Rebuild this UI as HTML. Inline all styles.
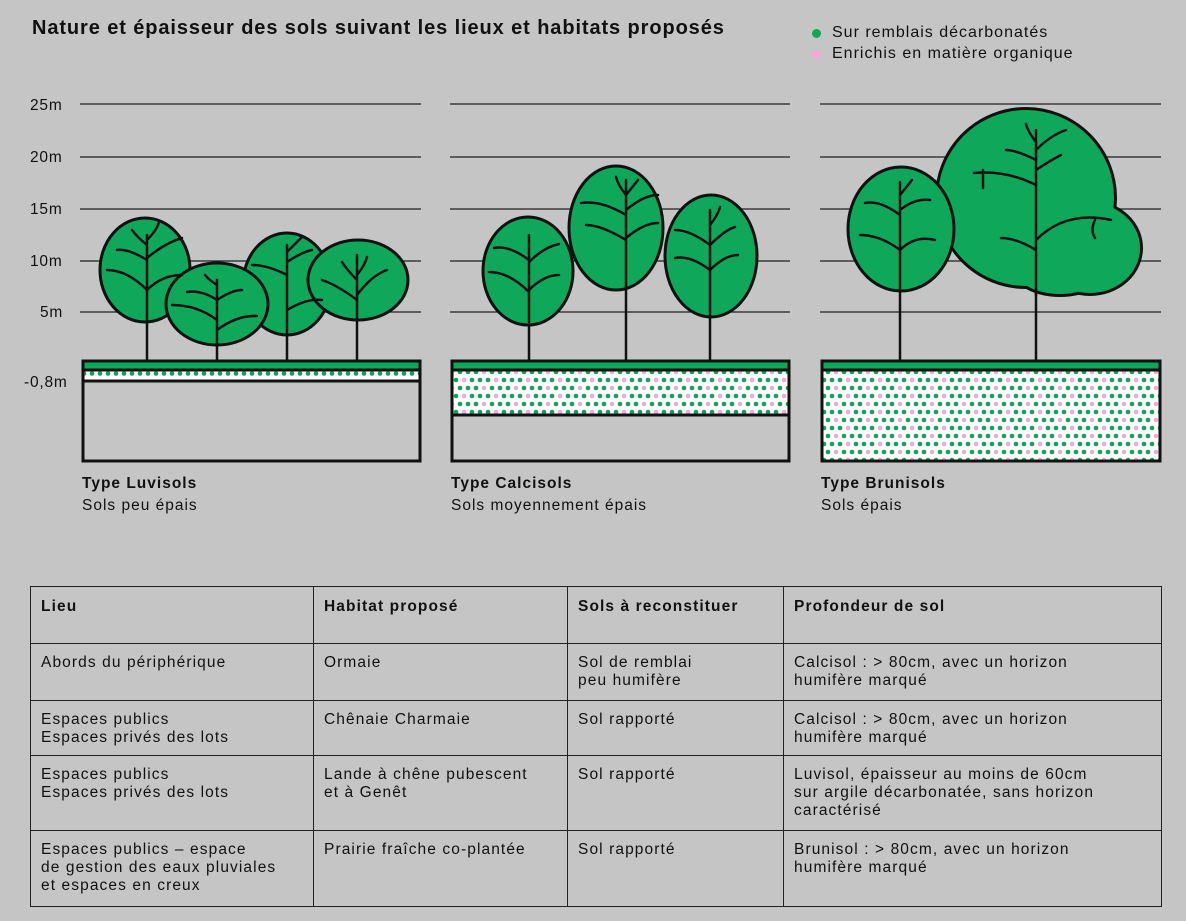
<!DOCTYPE html>
<html><head><meta charset="utf-8"><style>
html,body{margin:0;padding:0;background:#c4c5c4;}
body{width:1186px;height:921px;position:relative;overflow:hidden;font-family:"Liberation Sans",sans-serif;color:#111;}
.t{position:absolute;white-space:nowrap;}
table{position:absolute;left:30px;top:586px;border-collapse:collapse;font-size:15.5px;line-height:18px;letter-spacing:1.1px;table-layout:fixed;}
td{border:1.5px solid #222;vertical-align:top;padding:10px 10px 0 10px;box-sizing:border-box;white-space:nowrap;}
th{border:1.5px solid #222;text-align:left;vertical-align:top;padding:11px 10px 0 10px;font-weight:bold;height:57px;box-sizing:border-box;}
.lab{font-size:15.5px;letter-spacing:1px;}
</style></head><body>
<div class="t" style="left:32px;top:17px;font-size:20px;font-weight:bold;letter-spacing:0.9px;">Nature et épaisseur des sols suivant les lieux et habitats proposés</div>
<div class="t" style="left:812px;top:29px;width:9px;height:9px;border-radius:50%;background:#0fa85a;"></div>
<div class="t" style="left:812px;top:50px;width:9px;height:9px;border-radius:50%;background:#f2a9d2;"></div>
<div class="t" style="left:832px;top:24px;font-size:16px;letter-spacing:1px;">Sur remblais décarbonatés</div>
<div class="t" style="left:832px;top:45px;font-size:16px;letter-spacing:1px;">Enrichis en matière organique</div>

<svg width="1186" height="921" style="position:absolute;left:0;top:0">
<defs>
<pattern id="dots" x="0" y="0" width="32" height="16" patternUnits="userSpaceOnUse">
<rect width="32" height="16" fill="#fff"/>
<circle cx="4" cy="4" r="2.3" fill="#f2a9d2"/><circle cx="12" cy="4" r="2.3" fill="#11a05a"/><circle cx="20" cy="4" r="2.3" fill="#11a05a"/><circle cx="28" cy="4" r="2.3" fill="#11a05a"/>
<circle cx="0" cy="12" r="2.3" fill="#11a05a"/><circle cx="8" cy="12" r="2.3" fill="#11a05a"/><circle cx="16" cy="12" r="2.3" fill="#f2a9d2"/><circle cx="24" cy="12" r="2.3" fill="#11a05a"/><circle cx="32" cy="12" r="2.3" fill="#11a05a"/>
</pattern>
<pattern id="dotsg" x="0" y="0" width="16" height="16" patternUnits="userSpaceOnUse">
<rect width="16" height="16" fill="#fff"/><circle cx="4" cy="5.5" r="2.3" fill="#11a05a"/><circle cx="12" cy="5.5" r="2.3" fill="#11a05a"/>
</pattern>
</defs>
<g font-size="15.5" fill="#111" font-family="Liberation Sans, sans-serif" letter-spacing="0.8">
<text x="30" y="110">25m</text><text x="30" y="162">20m</text><text x="30" y="214">15m</text><text x="30" y="266">10m</text><text x="40" y="317">5m</text><text x="24" y="387">-0,8m</text>
</g>
<g stroke="#222" stroke-width="1.3">
<line x1="80" y1="104" x2="421" y2="104"/><line x1="80" y1="157" x2="421" y2="157"/><line x1="80" y1="209" x2="421" y2="209"/><line x1="80" y1="261" x2="421" y2="261"/><line x1="80" y1="312" x2="421" y2="312"/>
<line x1="450" y1="104" x2="790" y2="104"/><line x1="450" y1="157" x2="790" y2="157"/><line x1="450" y1="209" x2="790" y2="209"/><line x1="450" y1="261" x2="790" y2="261"/><line x1="450" y1="312" x2="790" y2="312"/>
<line x1="820" y1="104" x2="1161" y2="104"/><line x1="820" y1="157" x2="1161" y2="157"/><line x1="820" y1="209" x2="1161" y2="209"/><line x1="820" y1="261" x2="1161" y2="261"/><line x1="820" y1="312" x2="1161" y2="312"/>
</g>
<g stroke="#111" stroke-width="3">
<rect x="83" y="361" width="337" height="100" fill="#c4c5c4"/>
<rect x="83" y="370" width="337" height="11" fill="url(#dotsg)"/>
<rect x="83" y="361" width="337" height="9" fill="#0fa85a"/>
<rect x="452" y="361" width="337" height="100" fill="#c4c5c4"/>
<rect x="452" y="370" width="337" height="45" fill="url(#dots)"/>
<rect x="452" y="361" width="337" height="9" fill="#0fa85a"/>
<rect x="822" y="361" width="338" height="100" fill="url(#dots)"/>
<rect x="822" y="361" width="338" height="9" fill="#0fa85a"/>
</g>
<g stroke="#111" stroke-width="2.5">
<line x1="147" y1="290" x2="147" y2="361"/><line x1="217" y1="330" x2="217" y2="361"/><line x1="287" y1="300" x2="287" y2="361"/><line x1="357" y1="300" x2="357" y2="361"/>
<line x1="529" y1="300" x2="529" y2="361"/><line x1="626" y1="260" x2="626" y2="361"/><line x1="710" y1="290" x2="710" y2="361"/>
<line x1="900" y1="275" x2="900" y2="361"/><line x1="1036" y1="280" x2="1036" y2="361"/>
</g>
<g stroke="#111" stroke-width="3" fill="#0fa85a">
<ellipse cx="145" cy="270" rx="45" ry="52"/>
<ellipse cx="287" cy="284" rx="44" ry="51"/>
<ellipse cx="217" cy="304" rx="51" ry="41"/>
<ellipse cx="358" cy="280" rx="50" ry="40"/>
<ellipse cx="528" cy="271" rx="45" ry="54"/>
<ellipse cx="616" cy="228" rx="47" ry="62"/>
<ellipse cx="711" cy="256" rx="46" ry="61"/>
</g>
<g>
<g stroke="#111" stroke-width="6" fill="#111">
<ellipse cx="1026" cy="198" rx="88" ry="88"/><ellipse cx="1090" cy="248" rx="50" ry="45"/><ellipse cx="1060" cy="262" rx="50" ry="32"/>
</g>
<g fill="#0fa85a">
<ellipse cx="1026" cy="198" rx="88" ry="88"/><ellipse cx="1090" cy="248" rx="50" ry="45"/><ellipse cx="1060" cy="262" rx="50" ry="32"/>
</g>
</g>
<ellipse cx="901" cy="229" rx="53" ry="62" stroke="#111" stroke-width="3" fill="#0fa85a"/>
<g stroke="#111" stroke-width="2.5" fill="none" stroke-linecap="round">
<path d="M147 320 V235 M147 260 q-20-12-30-10 M147 290 q-20-20-40-20 M147 258 q18-15 35-20 M147 290 q15-15 35-15 M147 245 q-10-8-15-15 M147 240 q10-10 12-18"/>
<path d="M217 345 V280 M217 320 q-20-15-45-15 M217 330 q20-15 40-14 M217 300 q-15-10-30-8 M217 300 q15-10 25-10 M217 285 q-8-5-12-10"/>
<path d="M287 335 V245 M287 275 q-20-10-35-10 M287 262 q15-10 25-12 M287 310 q20-12 35-10 M287 252 q10-10 15-15"/>
<path d="M357 320 V255 M357 300 q-20-15-35-20 M357 295 q15-20 30-25 M357 280 q-10-10-15-18 M357 275 q8-10 10-18"/>
<path d="M529 322 V235 M529 260 q-20-15-35-12 M529 292 q-20-20-40-20 M529 262 q15-15 30-18 M529 290 q15-15 30-15"/>
<path d="M626 290 V180 M626 215 q-25-15-45-12 M626 240 q-25-15-40-15 M626 210 q18-15 32-15 M626 238 q18-15 32-15 M626 195 q-8-10-10-18 M626 195 q8-10 12-15"/>
<path d="M710 318 V210 M710 245 q-20-15-35-15 M710 270 q-20-15-35-12 M710 245 q15-15 25-18 M710 270 q15-15 28-15 M710 225 q8-10 10-18"/>
<path d="M900 290 V182 M900 215 q-20-15-35-12 M900 250 q-20-15-40-15 M900 210 q15-12 30-10 M900 250 q15-15 35-10 M900 195 q8-10 12-15"/>
<path d="M1036 295 V130 M1036 185 q-30-15-62-12 M983 170 v18 M1036 250 q-20-12-35-12 M1036 240 q30-30 75-20 M1095 220 q-5 10 0 18 M1036 160 q-20-10-30-10 M1036 150 q15-15 30-20 M1036 170 q15-10 25-15 M1036 142 q-8-10-10-18"/>
</g>
</svg>

<div class="t lab" style="left:82px;top:475px;font-weight:bold;">Type Luvisols</div>
<div class="t lab" style="left:82px;top:497px;">Sols peu épais</div>
<div class="t lab" style="left:451px;top:475px;font-weight:bold;">Type Calcisols</div>
<div class="t lab" style="left:451px;top:497px;">Sols moyennement épais</div>
<div class="t lab" style="left:821px;top:475px;font-weight:bold;">Type Brunisols</div>
<div class="t lab" style="left:821px;top:497px;">Sols épais</div>

<table>
<colgroup><col style="width:283px"><col style="width:254px"><col style="width:216px"><col style="width:378px"></colgroup>
<tr><th>Lieu</th><th>Habitat proposé</th><th>Sols à reconstituer</th><th>Profondeur de sol</th></tr>
<tr style="height:57px"><td>Abords du périphérique</td><td>Ormaie</td><td>Sol de remblai<br>peu humifère</td><td>Calcisol : &gt; 80cm, avec un horizon<br>humifère marqué</td></tr>
<tr style="height:55px"><td>Espaces publics<br>Espaces privés des lots</td><td>Chênaie Charmaie</td><td>Sol rapporté</td><td>Calcisol : &gt; 80cm, avec un horizon<br>humifère marqué</td></tr>
<tr style="height:75px"><td>Espaces publics<br>Espaces privés des lots</td><td>Lande à chêne pubescent<br>et à Genêt</td><td>Sol rapporté</td><td>Luvisol, épaisseur au moins de 60cm<br>sur argile décarbonatée, sans horizon<br>caractérisé</td></tr>
<tr style="height:76px"><td>Espaces publics – espace<br>de gestion des eaux pluviales<br>et espaces en creux</td><td>Prairie fraîche co-plantée</td><td>Sol rapporté</td><td>Brunisol : &gt; 80cm, avec un horizon<br>humifère marqué</td></tr>
</table>
</body></html>
